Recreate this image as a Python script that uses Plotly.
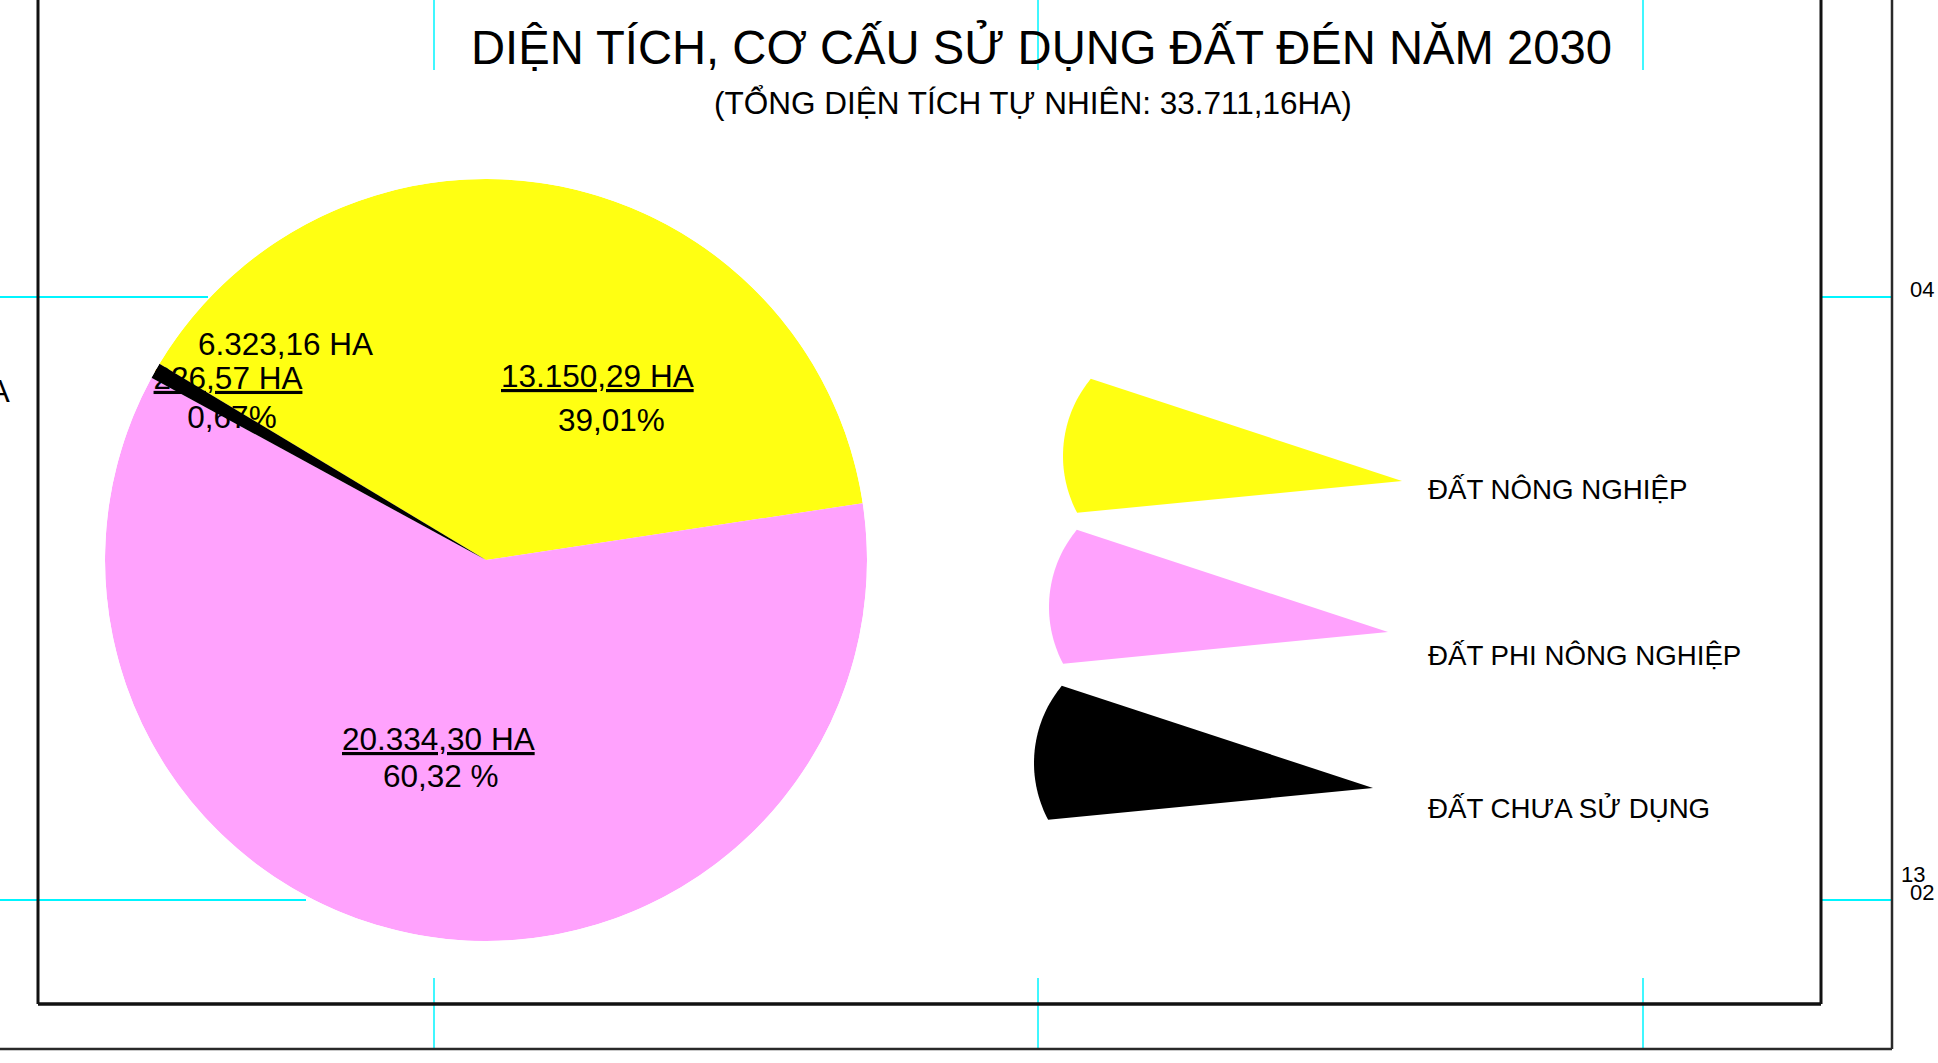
import math
import plotly.graph_objects as go

# ---------------- data ----------------
categories = ["ĐẤT NÔNG NGHIỆP", "ĐẤT PHI NÔNG NGHIỆP", "ĐẤT CHƯA SỬ DỤNG"]
areas_ha = [13150.29, 20334.30, 226.57]
area_labels = ["13.150,29 HA", "20.334,30 HA", "226,57 HA"]
percent_labels = ["39,01%", "60,32 %", "0,67%"]
slice_colors = ["#FFFF12", "#FFA2FD", "#000000"]

title_text = "DIỆN TÍCH, CƠ CẤU SỬ DỤNG ĐẤT ĐÉN NĂM 2030"
subtitle_text = "(TỔNG DIỆN TÍCH TỰ NHIÊN: 33.711,16HA)"
stray_label = "6.323,16 HA"
margin_marks = ["04", "13", "02"]

# ---------------- geometry / style ----------------
W, H = 1938, 1063
FONT = "Liberation Sans, Arial, sans-serif"
CX, CY, R = 486, 560, 381          # pie centre / radius in px
ROT = 149.0                          # math angle where the first slice starts


def P(x, y):
    return x / W, 1 - y / H


total = sum(areas_ha)
spans = [v / total * 360 for v in areas_ha]
mids = []
acc = 0
for s in spans:
    mids.append(acc + s / 2)
    acc += s

dom_x = [(CX - R) / W, (CX + R) / W]
dom_y = [1 - (CY + R) / H, 1 - (CY - R) / H]

fig = go.Figure()

# yellow + pink slices
fig.add_trace(go.Barpolar(
    r=[1, 1], theta=mids[:2], width=spans[:2],
    marker=dict(color=slice_colors[:2], line=dict(width=0)),
    subplot="polar", hoverinfo="skip", showlegend=False))


def to_polar(x, y):
    dx, dy = x - CX, CY - y
    phi = math.degrees(math.atan2(dy, dx))
    return math.hypot(dx, dy) / R, (ROT - phi) % 360


# labels of the small slice (partly hidden by the black slice)
small_pos = [(228, 381), (232, 420)]
rs, ths = zip(*[to_polar(x, y) for x, y in small_pos])
fig.add_trace(go.Scatterpolar(
    r=list(rs), theta=list(ths), mode="text",
    text=["<u>" + area_labels[2] + "</u>", percent_labels[2]],
    textposition="middle center",
    textfont=dict(family=FONT, size=31.5, color="black"),
    cliponaxis=False, subplot="polar", hoverinfo="skip", showlegend=False))

# black slice on top
fig.add_trace(go.Barpolar(
    r=[1], theta=[mids[2]], width=[spans[2]],
    marker=dict(color=slice_colors[2], line=dict(width=0)),
    subplot="polar2", hoverinfo="skip", showlegend=False))

hidden_axes = dict(
    domain=dict(x=dom_x, y=dom_y),
    bgcolor="rgba(0,0,0,0)",
    radialaxis=dict(visible=False, range=[0, 1], showgrid=False, showline=False,
                    showticklabels=False, ticks=""),
    angularaxis=dict(visible=False, rotation=ROT, direction="clockwise",
                     showgrid=False, showline=False, showticklabels=False, ticks=""),
)

# ---------------- shapes ----------------
shapes = []


def line(x0, y0, x1, y1, color, width, layer="below"):
    a = P(x0, y0)
    b = P(x1, y1)
    shapes.append(dict(type="line", xref="paper", yref="paper",
                       x0=a[0], y0=a[1], x1=b[0], y1=b[1],
                       line=dict(color=color, width=width), layer=layer))


CYAN = "#00F5FF"
for vx in (434, 1038, 1643):
    line(vx, -2, vx, 70, CYAN, 1.5)
    line(vx, 978, vx, 1049, CYAN, 1.5)
line(-2, 297, 208, 297, CYAN, 2)
line(-2, 900, 306, 900, CYAN, 2)
line(1821, 297, 1892, 297, CYAN, 2)
line(1821, 900, 1892, 900, CYAN, 2)

# frames
line(38, -5, 38, 1004, "#111111", 3, "above")
line(38, 1004, 1821, 1004, "#111111", 3.5, "above")
line(1821, -5, 1821, 1004, "#111111", 3, "above")
line(1892, -5, 1892, 1049, "#2a2a2a", 2.5, "above")
line(-5, 1049, 1892, 1049, "#2a2a2a", 2.5, "above")

# legend glyphs (fan shapes)
legend_apex = [(1402, 481), (1388, 632), (1373, 788)]


def glyph_path(ax, ay):
    ccx, ccy, rr = ax - 218, ay - 25, 121
    pts = [(ax, ay)]
    n = 40
    for i in range(n + 1):
        a = math.radians(140.4 + (208 - 140.4) * i / n)
        pts.append((ccx + rr * math.cos(a), ccy - rr * math.sin(a)))
    s = ""
    for i, (x, y) in enumerate(pts):
        px, py = P(x, y)
        s += ("M" if i == 0 else "L") + f"{px:.6f},{py:.6f} "
    return s + "Z"


for (ax, ay), col in zip(legend_apex, slice_colors):
    shapes.append(dict(type="path", xref="paper", yref="paper",
                       path=glyph_path(ax, ay), fillcolor=col,
                       line=dict(width=0), layer="above"))

# ---------------- annotations ----------------
ann = []


def text(x, y, s, size, xanchor="center"):
    px, py = P(x, y)
    ann.append(dict(xref="paper", yref="paper", x=px, y=py, text=s,
                    showarrow=False, xanchor=xanchor, yanchor="middle",
                    font=dict(family=FONT, size=size, color="black")))


text(1041, 47, title_text, 47.2)
text(1033, 103, subtitle_text, 31.5)

text(597, 376, "<u>" + area_labels[0] + "</u>", 31.5)
text(611, 420, percent_labels[0], 31.5)
text(438, 739, "<u>" + area_labels[1] + "</u>", 31.5)
text(441, 776, percent_labels[1], 31.5)
text(285.5, 344, stray_label, 31.5)

for cat, yy in zip(categories, (489, 655, 808)):
    text(1425.5, yy, cat, 27.7, "left")

text(1908, 289, margin_marks[0], 22, "left")
text(1899, 874, margin_marks[1], 22, "left")
text(1908, 892, margin_marks[2], 22, "left")
text(12, 391, "HA", 31.5, "right")

fig.update_layout(
    width=W, height=H,
    margin=dict(l=0, r=0, t=0, b=0),
    paper_bgcolor="white", plot_bgcolor="white",
    template="none",
    showlegend=False,
    polar=hidden_axes,
    polar2=hidden_axes,
    shapes=shapes,
    annotations=ann,
)

fig.write_html(
    "out.html",
    include_plotlyjs=True,
    config={"displayModeBar": False, "staticPlot": True},
    post_script="document.body.style.margin='0';document.body.style.overflow='hidden';",
)
